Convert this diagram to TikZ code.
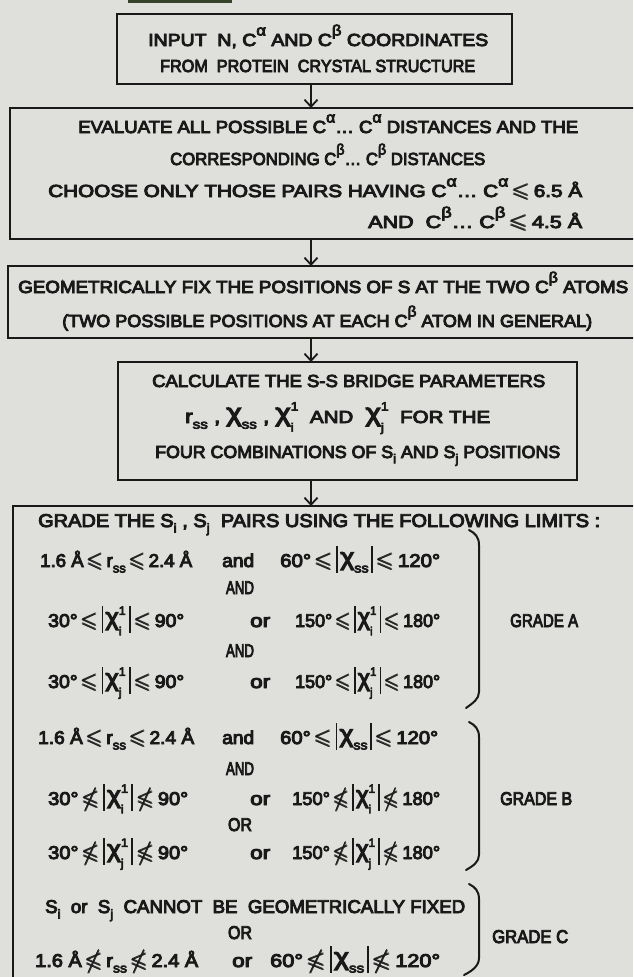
\documentclass[tikz,border=0pt]{standalone}
\usepackage{fontspec}
\usepackage{amssymb}
\usepackage{amsmath}
\usepackage{graphicx}
\setmainfont{Liberation Sans}[FakeBold=5]
\usetikzlibrary{arrows.meta}
\definecolor{paper}{RGB}{223,223,220}
\definecolor{ink}{RGB}{25,25,25}
\definecolor{barink}{RGB}{55,66,42}
\newsavebox\fitbox
\newcommand\fitw[2]{\sbox\fitbox{#2}\pgfmathsetmacro\fitfac{#1/\the\wd\fitbox}\scalebox{\fitfac}[1]{\usebox\fitbox}}
\newcommand\up[1]{\raisebox{0.6em}{\fontsize{15}{15}\selectfont #1}}
\newcommand\dn[1]{\raisebox{-0.3em}{\fontsize{13}{13}\selectfont #1}}
\newcommand\ud[2]{\makebox[0.42em][l]{\rlap{\raisebox{0.66em}{\fontsize{12}{12}\selectfont #1}}\raisebox{-0.45em}{\fontsize{12}{12}\selectfont #2}}}
\newcommand\chix{\raisebox{0.1em}{\scalebox{1.3}{χ}}}
\newcommand\leqs{\,\scalebox{1.15}{$\pmb{\leqslant}$}\,}
\newcommand\nleqs{\,\scalebox{1.15}{$\pmb{\nleqslant}$}\,}
\newcommand\vb{\rule[-0.32em]{1.7pt}{1.45em}}
\newcommand\abs[1]{\vb\hspace{2pt}#1\hspace{2pt}\vb}
\newcommand\rss{r\dn{ss}}
\newcommand\xss{\chix\dn{ss}}
\begin{document}
\begin{tikzpicture}[x=1pt,y=-1pt,
  box/.style={draw=ink,line width=2.2pt,inner sep=0pt,outer sep=0pt},
  txt/.style={anchor=base west,inner sep=0pt,text=ink,font=\fontsize{17.5}{20}\selectfont},
  gtxt/.style={anchor=base west,inner sep=0pt,text=ink,font=\fontsize{18.5}{21}\selectfont},
  ctr/.style={anchor=base},
  arr/.style={draw=ink,line width=1.8pt,-{Straight Barb[length=7pt,width=13pt,line width=1.8pt]}},
  brc/.style={draw=ink,line width=2pt,line cap=round}]
\useasboundingbox (0,0) rectangle (633,977);
\fill[paper] (0,0) rectangle (633,977);
\clip (0,0) rectangle (633,977);
% partial box edge at top
\fill[barink] (128,-2) rectangle (232,2.5);
% boxes
\node[box,anchor=north west,minimum width=395pt,minimum height=70pt] (b1) at (117,14) {};
\node[box,anchor=north west,minimum width=640pt,minimum height=131pt] (b2) at (10,108) {};
\node[box,anchor=north west,minimum width=640pt,minimum height=72pt] (b3) at (8,266) {};
\node[box,anchor=north west,minimum width=459pt,minimum height=118pt] (b4) at (118,362) {};
\node[box,anchor=north west,minimum width=700pt,minimum height=600pt] (b5) at (13,506) {};
\coordinate (ax) at (311,0);
\draw[arr] (b1.south -| ax) -- (b2.north -| ax);
\draw[arr] (b2.south -| ax) -- (b3.north -| ax);
\draw[arr] (b3.south -| ax) -- (b4.north -| ax);
\draw[arr] (b4.south -| ax) -- (b5.north -| ax);
% box 1
\node[txt] (t11) at (148,46) {\fitw{340}{INPUT\ \ N, C\up{α} AND C\up{β} COORDINATES}};
\node[txt] (t12) at (160,72) {\fitw{315}{FROM\ \ PROTEIN\ \ CRYSTAL STRUCTURE}};
% box 2
\node[txt] (t21) at (78,133) {\fitw{500}{EVALUATE ALL POSSIBLE C\up{α}… C\up{α} DISTANCES AND THE}};
\node[txt] (t22) at (170,165) {\fitw{315}{CORRESPONDING C\up{β}… C\up{β} DISTANCES}};
\node[txt] (t23) at (48,197) {\fitw{534}{CHOOSE ONLY THOSE PAIRS HAVING C\up{α}… C\up{α}\leqs 6.5 Å}};
\node[txt] (t24) at (368,228) {\fitw{214}{AND\ \ C\up{β}… C\up{β}\leqs 4.5 Å}};
% box 3
\node[txt] (t31) at (18,293) {\fitw{610}{GEOMETRICALLY FIX THE POSITIONS OF S AT THE TWO C\up{β} ATOMS}};
\node[txt] (t32) at (62,327) {\fitw{530}{(TWO POSSIBLE POSITIONS AT EACH C\up{β} ATOM IN GENERAL)}};
% box 4
\node[txt] (t41) at (152,387) {\fitw{393}{CALCULATE THE S-S BRIDGE PARAMETERS}};
\node[txt] (t42) at (185,423) {\fitw{305}{\fontsize{19}{21}\selectfont\rss\ , \xss\ , \chix\ud{1}{i}\ \,{\fontsize{17.5}{20}\selectfont AND}\ \ \chix\ud{1}{j}\ \,{\fontsize{17.5}{20}\selectfont FOR THE}}};
\node[txt] (t43) at (155,458) {\fitw{405}{FOUR COMBINATIONS OF S\dn{i} AND S\dn{j} POSITIONS}};
% box 5
\node[gtxt] (t50) at (38,527) {\fitw{562}{GRADE THE S\dn{i} , S\dn{j}\ \ PAIRS USING THE FOLLOWING LIMITS :}};
% grade A
\node[gtxt] (a1l) at (40,567) {\fitw{152}{1.6 Å\leqs\rss\leqs 2.4 Å}};
\node[gtxt] (a1m) at (222,567) {\fitw{32}{and}};
\node[gtxt] (a1r) at (280,567) {\fitw{160}{60°\leqs\abs{\xss}\leqs 120°}};
\node[gtxt,ctr] (a2) at (240,594) {\fitw{28}{AND}};
\node[gtxt] (a3l) at (48,627) {\fitw{136}{30°\leqs\abs{\chix\ud{1}{i}}\leqs 90°}};
\node[gtxt] (a3m) at (250,627) {\fitw{20}{or}};
\node[gtxt] (a3r) at (295,627) {\fitw{145}{150°\leqs\abs{\chix\ud{1}{i}}\leqs 180°}};
\node[gtxt,ctr] (a4) at (240,657) {\fitw{28}{AND}};
\node[gtxt] (a5l) at (48,688) {\fitw{136}{30°\leqs\abs{\chix\ud{1}{j}}\leqs 90°}};
\node[gtxt] (a5m) at (250,688) {\fitw{20}{or}};
\node[gtxt] (a5r) at (295,688) {\fitw{145}{150°\leqs\abs{\chix\ud{1}{j}}\leqs 180°}};
\node[gtxt] (ga) at (510,627) {\fitw{68}{GRADE A}};
\draw[brc] (469,530) .. controls (475,533) and (479,537) .. (479,545) -- (479,692) .. controls (479,699) and (473,703) .. (466,708);
% grade B
\node[gtxt] (b1l) at (38,744) {\fitw{156}{1.6 Å\leqs\rss\leqs 2.4 Å}};
\node[gtxt] (b1m) at (222,744) {\fitw{32}{and}};
\node[gtxt] (b1r) at (280,744) {\fitw{158}{60°\leqs\abs{\xss}\leqs 120°}};
\node[gtxt,ctr] (b2t) at (240,775) {\fitw{28}{AND}};
\node[gtxt] (b3l) at (48,805) {\fitw{140}{30°\nleqs\abs{\chix\ud{1}{i}}\nleqs 90°}};
\node[gtxt] (b3m) at (250,805) {\fitw{20}{or}};
\node[gtxt] (b3r) at (292,805) {\fitw{148}{150°\nleqs\abs{\chix\ud{1}{i}}\nleqs 180°}};
\node[gtxt,ctr] (b4t) at (240,831) {\fitw{24}{OR}};
\node[gtxt] (b5l) at (48,859) {\fitw{140}{30°\nleqs\abs{\chix\ud{1}{j}}\nleqs 90°}};
\node[gtxt] (b5m) at (250,859) {\fitw{20}{or}};
\node[gtxt] (b5r) at (292,859) {\fitw{148}{150°\nleqs\abs{\chix\ud{1}{j}}\nleqs 180°}};
\node[gtxt] (gb) at (500,805) {\fitw{72}{GRADE B}};
\draw[brc] (469,722) .. controls (475,725) and (479,729) .. (479,737) -- (479,855) .. controls (479,862) and (473,866) .. (466,870);
% grade C
\node[gtxt] (c1) at (45,913) {\fitw{420}{S\dn{i}\ \ or\ \ S\dn{j}\ \ CANNOT\ \ BE\ \ GEOMETRICALLY FIXED}};
\node[gtxt,ctr] (c2) at (240,939) {\fitw{24}{OR}};
\node[gtxt] (c3l) at (35,967) {\fitw{163}{1.6 Å\nleqs\rss\nleqs 2.4 Å}};
\node[gtxt] (c3m) at (232,967) {\fitw{20}{or}};
\node[gtxt] (c3r) at (270,967) {\fitw{170}{60°\nleqs\abs{\xss}\nleqs 120°}};
\node[gtxt] (gc) at (492,943) {\fitw{76}{GRADE C}};
\draw[brc] (469,884) .. controls (475,887) and (479,891) .. (479,899) -- (479,958) .. controls (479,966) and (472,971) .. (464,975);
\end{tikzpicture}
\end{document}
